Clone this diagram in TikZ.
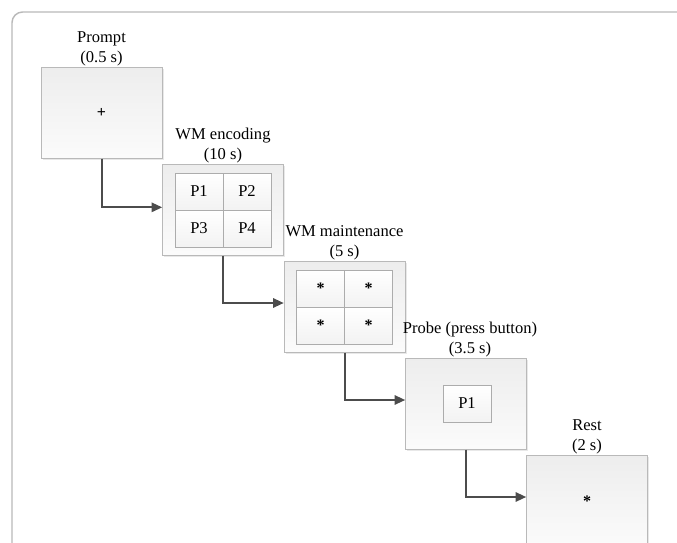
\documentclass[tikz,border=0pt]{standalone}
\usepackage{fontspec}
\setmainfont{Liberation Serif}
\usetikzlibrary{arrows.meta, positioning, shadows}

\newcommand{\starmark}{\textbf{\large *}}

\begin{document}
\begin{tikzpicture}[
    x=0.75pt, y=-0.75pt,
    font=\fontsize{12.4}{15}\selectfont,
    screen/.style={draw=gray!55, top color=gray!14, bottom color=gray!3,
                   minimum width=90.75pt, minimum height=68pt, inner sep=0pt,
                   drop shadow={opacity=0.18, shadow xshift=1.2pt, shadow yshift=-1.2pt}},
    cell/.style={draw=gray!65, top color=white, bottom color=gray!10,
                 minimum width=36pt, minimum height=27.75pt, inner sep=0pt},
    title/.style={align=center, inner sep=1pt, above=0pt},
    arr/.style={-{Triangle[length=8pt, width=7pt]}, line width=1.5pt, draw=black!70},
    frame/.style={draw=gray!55, line width=1.1pt, rounded corners=8pt},
  ]

  \useasboundingbox (0,0) rectangle (677,542);
  \draw[frame] (12,560) |- (700,12);

  \node[screen] (prompt) at (101.5,113) {\textbf{\large +}};
  \node[screen] (enc)    at (223,210) {};
  \node[screen] (maint)  at (344.5,307) {};
  \node[screen] (probe)  at (466,404) {};
  \node[screen] (rest)   at (587,501) {\starmark};

  \node[title] (promptlbl) at (prompt.north) {Prompt\\(0.5 s)};
  \node[title] (enclbl)    at (enc.north)    {WM encoding\\(10 s)};
  \node[title] (maintlbl)  at (maint.north)  {WM maintenance\\(5 s)};
  \node[title] (probelbl)  at ([xshift=3pt]probe.north) {Probe (press button)\\(3.5 s)};
  \node[title] (restlbl)   at (rest.north)   {Rest\\(2 s)};

  % encoding grid
  \node[cell] (encA) at (199,191.5) {P1};
  \node[cell] (encB) at (247,191.5) {P2};
  \node[cell] (encC) at (199,228.5) {P3};
  \node[cell] (encD) at (247,228.5) {P4};

  % maintenance grid
  \node[cell] (mtA) at (320.5,288.5) {\starmark};
  \node[cell] (mtB) at (368.5,288.5) {\starmark};
  \node[cell] (mtC) at (320.5,325.5) {\starmark};
  \node[cell] (mtD) at (368.5,325.5) {\starmark};

  \node[cell] (probecue) at (467,403.5) {P1};

  \draw[arr] (prompt.south) |- ([yshift=2pt]enc.west);
  \draw[arr] (enc.south) |- ([yshift=3pt]maint.west);
  \draw[arr] (maint.south) |- ([yshift=3pt]probe.west);
  \draw[arr] (probe.south) |- ([yshift=3pt]rest.west);

\end{tikzpicture}
\end{document}
